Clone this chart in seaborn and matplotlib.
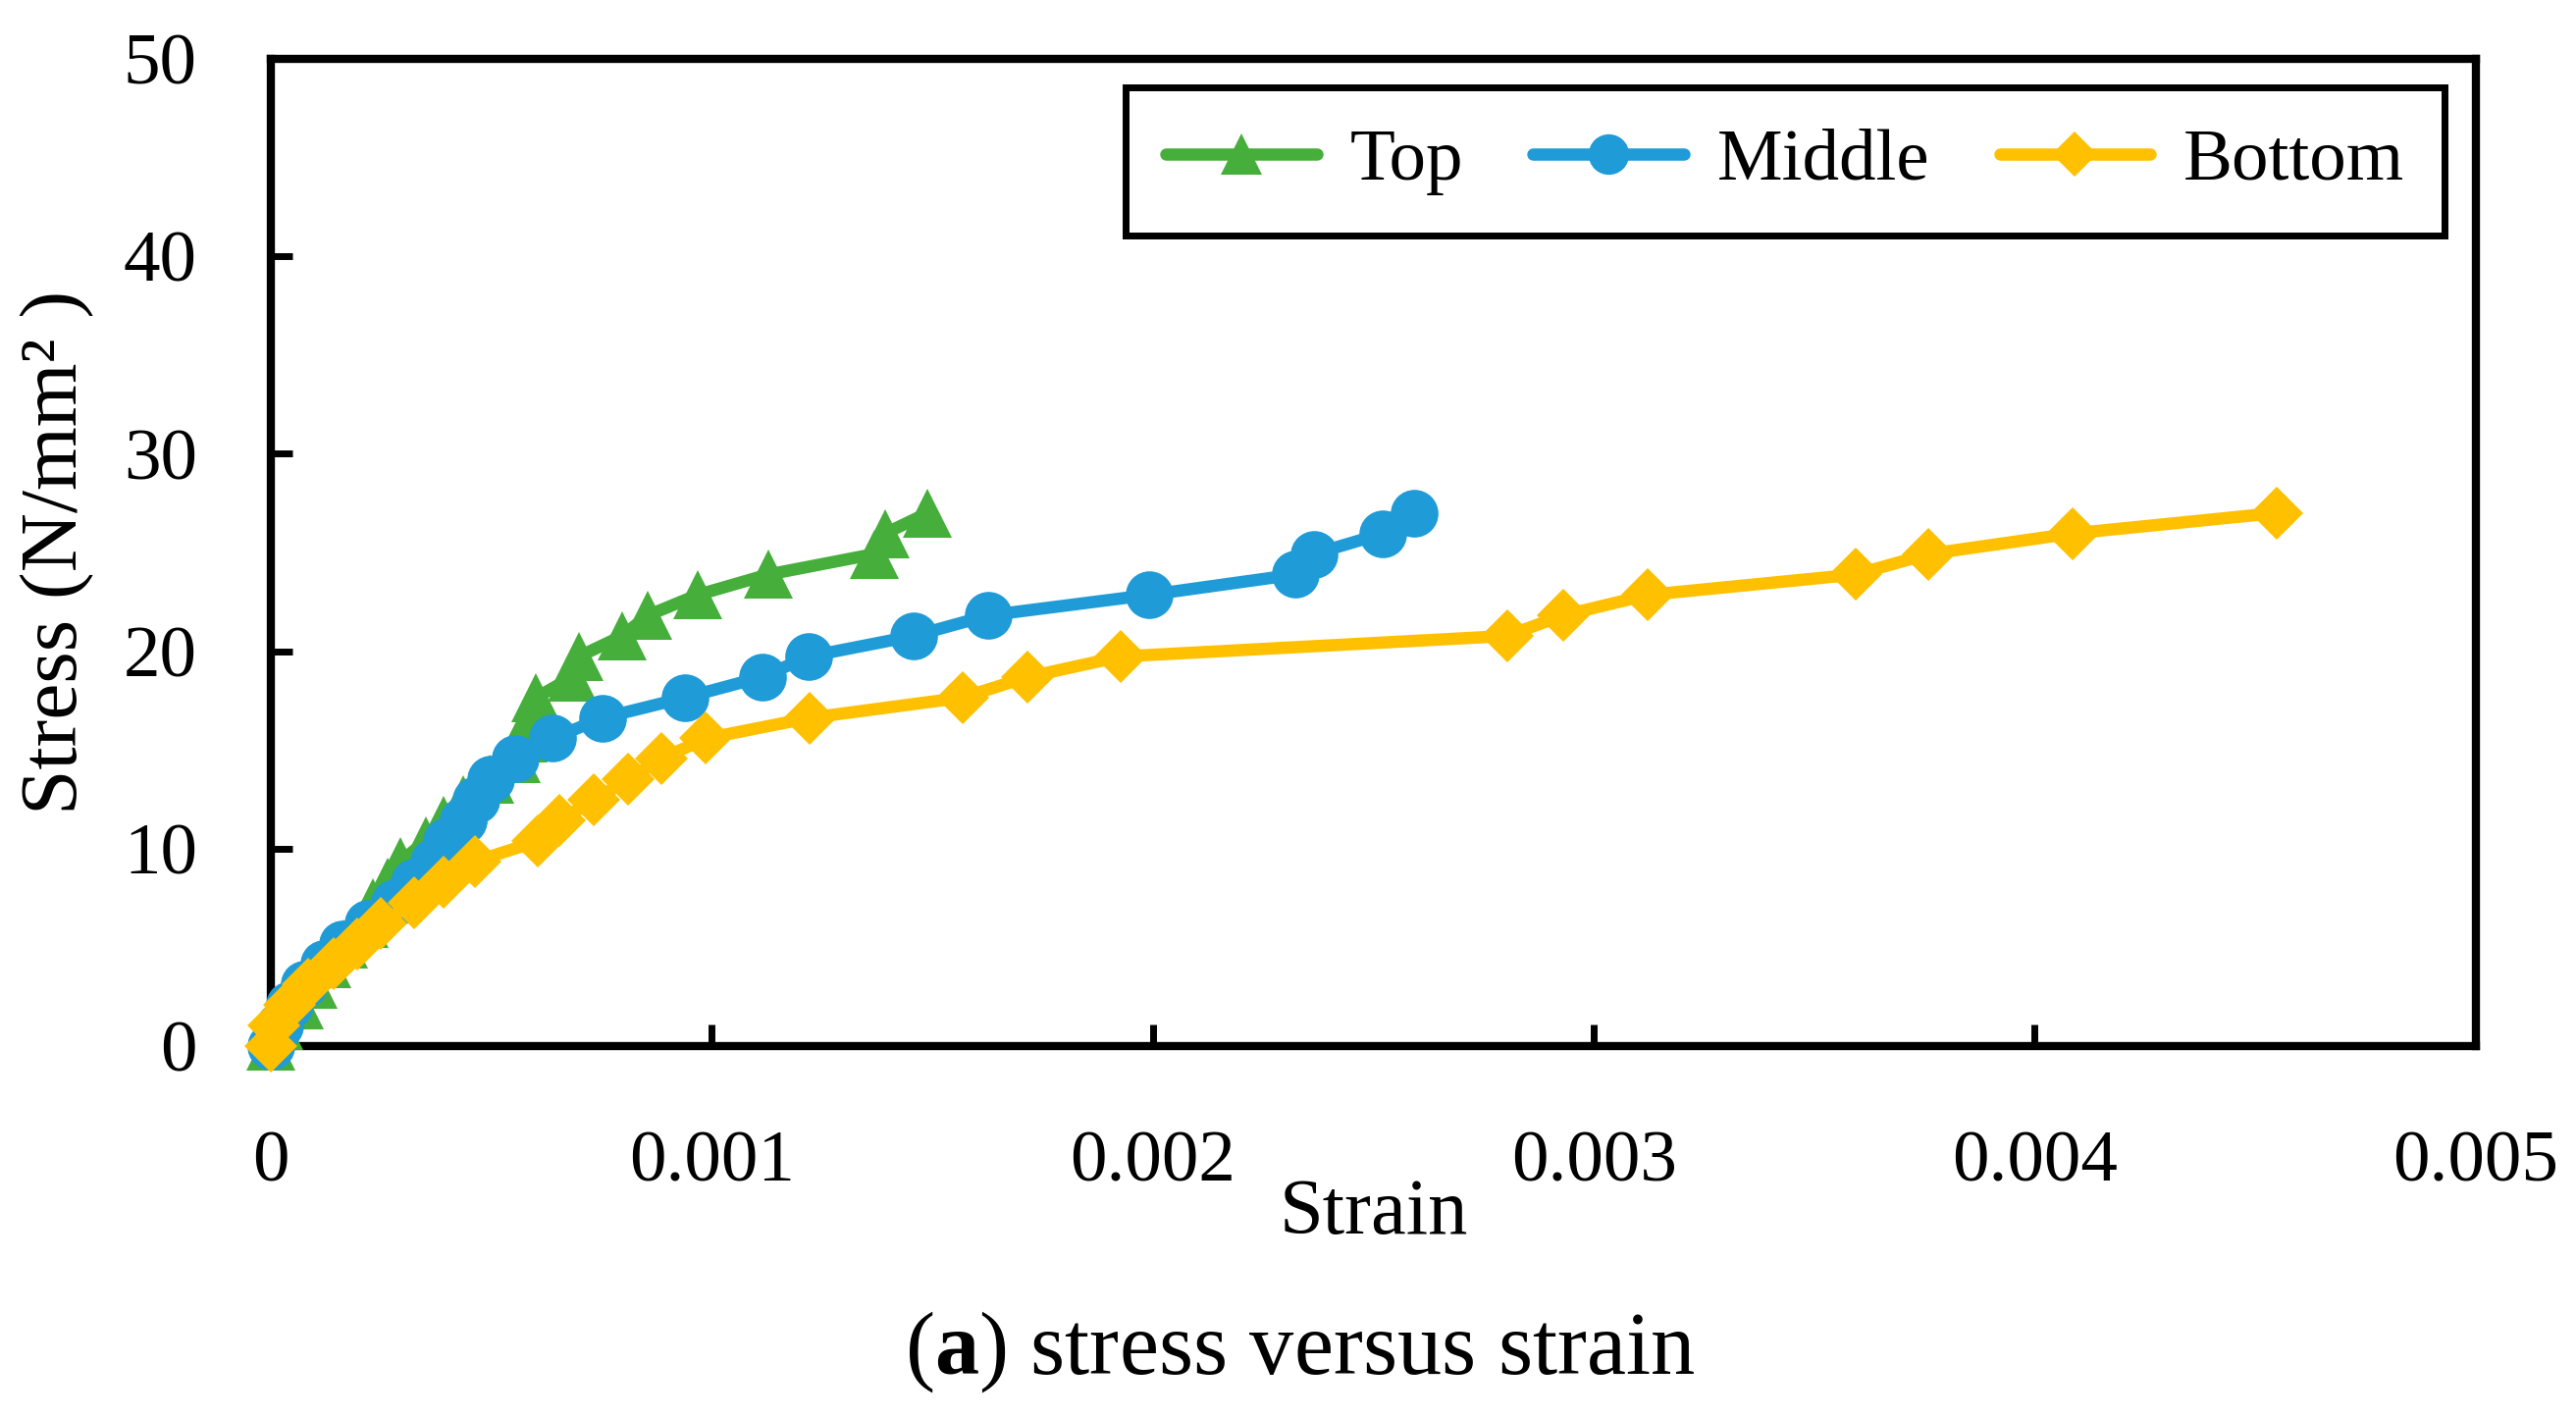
import numpy as np
import pandas as pd
import seaborn as sns
import matplotlib.pyplot as plt

# load steps (N/mm2), shared by the three gauges
stress = [0, 1.04, 2.08, 3.12, 4.15, 5.19, 6.23, 7.27, 8.31, 9.35, 10.38, 11.42, 12.46, 13.50,
          14.54, 15.58, 16.62, 17.65, 18.69, 19.73, 20.77, 21.81, 22.85, 23.88, 24.92, 25.96, 27.00]

top_strain = [0, 0.000019, 0.000064, 0.000097, 0.000127, 0.000164, 0.000212, 0.000232, 0.000265,
              0.000295, 0.000351, 0.000392, 0.000436, 0.000497, 0.000556, 0.000573, 0.000588,
              0.000602, 0.000684, 0.000699, 0.000797, 0.000855, 0.000968, 0.001128, 0.001369,
              0.001393, 0.001490]

middle_strain = [0, 0.000020, 0.000043, 0.000077, 0.000120, 0.000162, 0.000221, 0.000280, 0.000325,
                 0.000369, 0.000399, 0.000436, 0.000465, 0.000499, 0.000554, 0.000639, 0.000753,
                 0.000940, 0.001114, 0.001220, 0.001458, 0.001627, 0.001992, 0.002323, 0.002365,
                 0.002522, 0.002593]

bottom_strain = [0, 0.000008, 0.000042, 0.000085, 0.000142, 0.000196, 0.000250, 0.000326, 0.000392,
                 0.000463, 0.000606, 0.000655, 0.000733, 0.000811, 0.000885, 0.000987, 0.001222,
                 0.001569, 0.001716, 0.001928, 0.002803, 0.002930, 0.003123, 0.003593, 0.003759,
                 0.004085, 0.004549]

series_names = ['Top', 'Middle', 'Bottom']
x_ticks = [0, 0.001, 0.002, 0.003, 0.004, 0.005]
x_tick_labels = ['0', '0.001', '0.002', '0.003', '0.004', '0.005']
y_ticks = [0, 10, 20, 30, 40, 50]

sns.set_theme(style='white')
plt.rcParams['font.family'] = ['Liberation Serif', 'DejaVu Serif']
plt.rcParams['mathtext.fontset'] = 'custom'
plt.rcParams['mathtext.rm'] = 'Liberation Serif'
plt.rcParams['mathtext.bf'] = 'Liberation Serif:bold'

fig = plt.figure(figsize=(26.25, 14.44), dpi=100)
ax = fig.add_axes([0.1051, 0.2618, 0.856, 0.6967])

# marker, colour, marker size per gauge
styles = {
    'Top': ('^', '#46AE3B', 36),
    'Middle': ('o', '#1F9BD7', 35),
    'Bottom': ('D', '#FFC000', 28),
}

for i, (name, strain) in enumerate(zip(series_names, [top_strain, middle_strain, bottom_strain])):
    marker, color, ms = styles[name]
    sns.lineplot(x=strain, y=stress, ax=ax, color=color, marker=marker, markersize=ms,
                 markeredgewidth=0, linewidth=9, label=name, sort=False, estimator=None,
                 clip_on=False, zorder=3 + i)

ax.set_xlim(0, 0.005)
ax.set_ylim(0, 50)
ax.set_xticks(x_ticks)
ax.set_xticklabels(x_tick_labels)
ax.set_yticks(y_ticks)

for s in ax.spines.values():
    s.set_linewidth(6)
    s.set_color('black')
ax.tick_params(axis='both', direction='in', length=16, width=5, color='black',
               labelsize=54, labelcolor='black', bottom=True, left=True)
ax.tick_params(axis='x', pad=62)
ax.tick_params(axis='y', pad=54)
ax.grid(False)

ax.set_xlabel('Strain', fontsize=58, color='black')
ax.xaxis.set_label_coords(0.5, -0.134)
ax.set_ylabel('Stress (N/mm² )', fontsize=60, color='black')
ax.yaxis.set_label_coords(-0.08, 0.5)

leg = ax.legend(loc='upper right', bbox_to_anchor=(0.986, 0.971), ncol=3, frameon=True,
                fancybox=False, framealpha=1, fontsize=54, handlelength=2.05,
                columnspacing=0.95, handletextpad=0.45, borderpad=0.55, borderaxespad=0,
                markerscale=0.85)
leg.get_frame().set_edgecolor('black')
leg.get_frame().set_linewidth(5)
for t in leg.get_texts():
    t.set_color('black')

fig.text(0.5048, 0.0457, r'($\mathbf{a}$) stress versus strain', ha='center', va='center',
         fontsize=65, color='black')

fig.savefig('out.png', dpi=100)
